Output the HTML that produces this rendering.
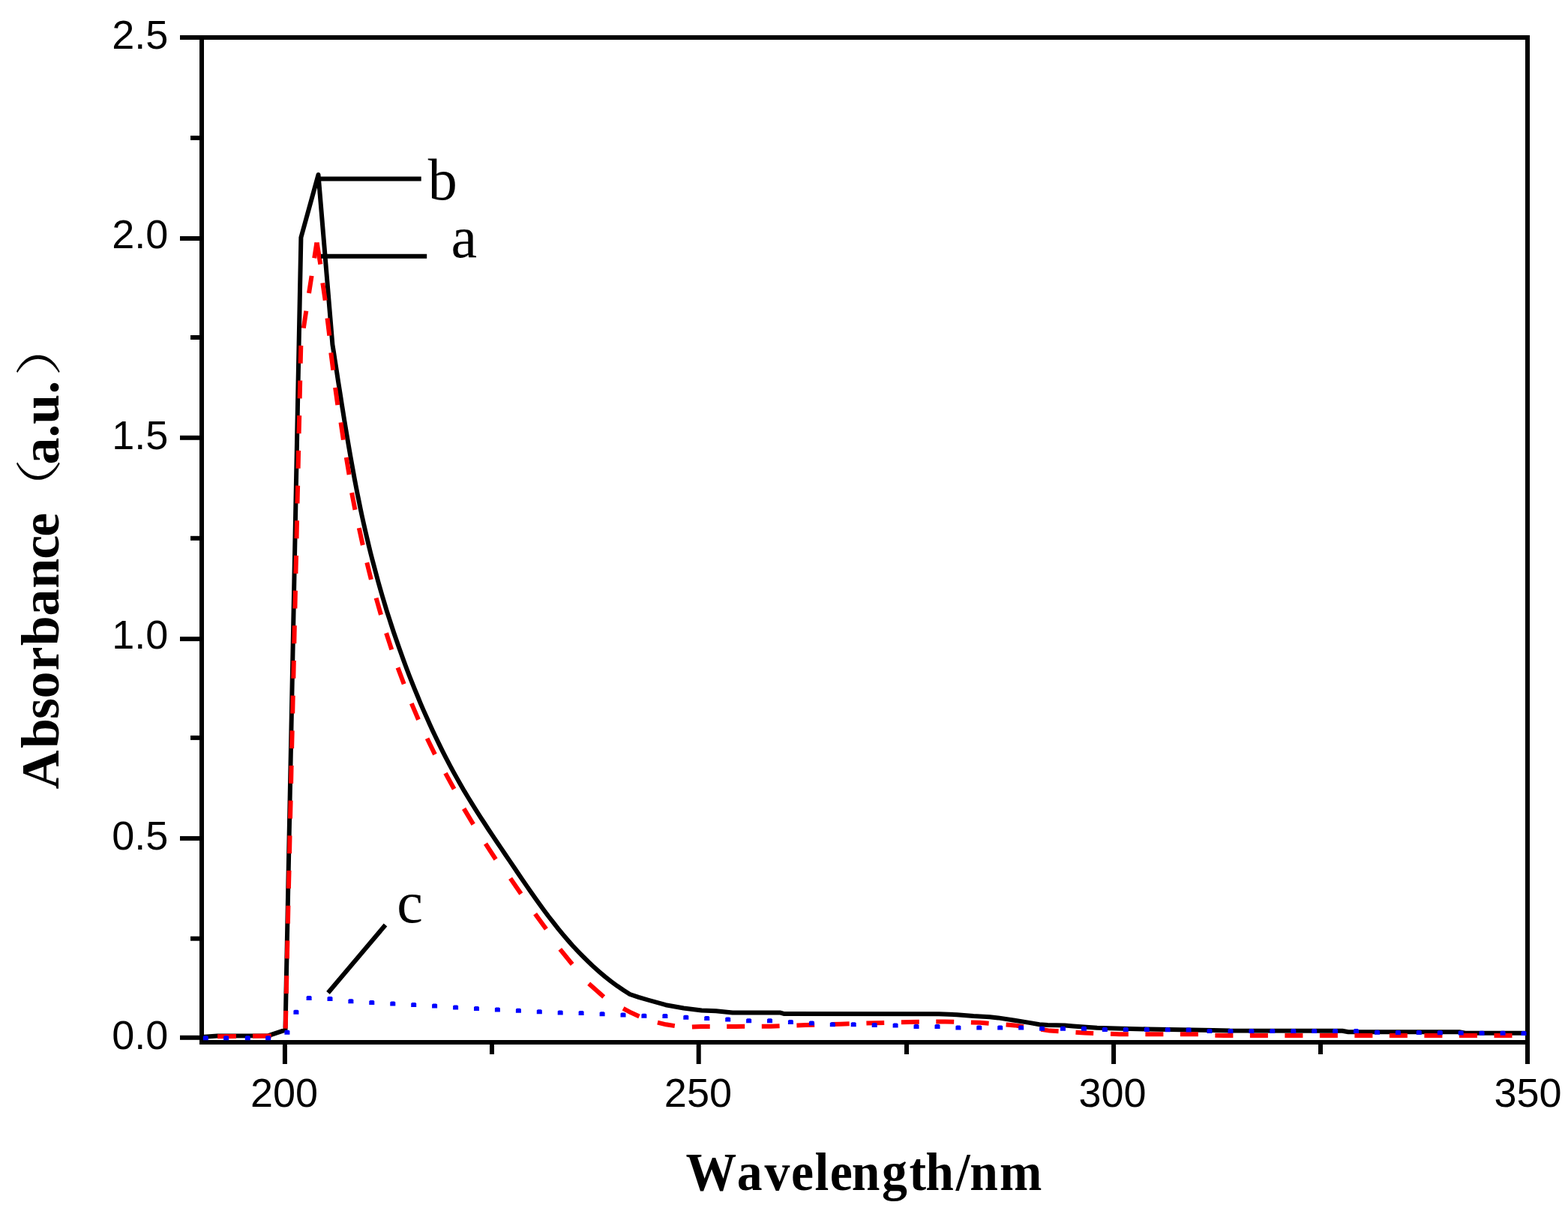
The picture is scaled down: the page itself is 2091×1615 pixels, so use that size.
<!DOCTYPE html>
<html lang="en">
<head>
<meta charset="utf-8">
<title>UV absorbance spectra</title>
<style>
html,body{margin:0;padding:0;background:#fff;}
body{width:2091px;height:1615px;overflow:hidden;}
svg{display:block;}
text{white-space:pre;}
</style>
</head>
<body>
<svg width="2091" height="1615" viewBox="0 0 2091 1615" role="img" aria-label="UV absorbance spectra of samples a, b and c">
<rect width="2091" height="1615" fill="#fff"/>
<!-- plot frame and tick marks -->
<g id="axes">
<rect x="266.00" y="47.00" width="1774.00" height="6.00" fill="#000"/>
<rect x="266.00" y="1387.00" width="1774.00" height="6.00" fill="#000"/>
<rect x="266.00" y="47.00" width="6.00" height="1346.00" fill="#000"/>
<rect x="2034.00" y="47.00" width="6.00" height="1346.00" fill="#000"/>
<rect x="240.00" y="47.00" width="29.00" height="6.00" fill="#000"/>
<rect x="240.00" y="315.00" width="29.00" height="6.00" fill="#000"/>
<rect x="240.00" y="580.80" width="29.00" height="6.00" fill="#000"/>
<rect x="240.00" y="849.10" width="29.00" height="6.00" fill="#000"/>
<rect x="240.00" y="1115.10" width="29.00" height="6.00" fill="#000"/>
<rect x="240.00" y="1380.80" width="29.00" height="6.00" fill="#000"/>
<rect x="254.00" y="180.90" width="15.00" height="6.00" fill="#000"/>
<rect x="254.00" y="447.00" width="15.00" height="6.00" fill="#000"/>
<rect x="254.00" y="714.80" width="15.00" height="6.00" fill="#000"/>
<rect x="254.00" y="980.90" width="15.00" height="6.00" fill="#000"/>
<rect x="254.00" y="1248.70" width="15.00" height="6.00" fill="#000"/>
<rect x="376.90" y="1390.00" width="6.00" height="29.00" fill="#000"/>
<rect x="928.70" y="1390.00" width="6.00" height="29.00" fill="#000"/>
<rect x="1482.10" y="1390.00" width="6.00" height="29.00" fill="#000"/>
<rect x="2034.00" y="1390.00" width="6.00" height="29.00" fill="#000"/>
<rect x="653.00" y="1390.00" width="6.00" height="16.00" fill="#000"/>
<rect x="1206.00" y="1390.00" width="6.00" height="16.00" fill="#000"/>
<rect x="1758.00" y="1390.00" width="6.00" height="16.00" fill="#000"/>
</g>
<clipPath id="plotclip"><rect x="266.0" y="50.0" width="1774.0" height="1340.0"/></clipPath>
<g clip-path="url(#plotclip)">
<!-- spectra: b (solid), a (dashed), c (dotted) -->
<g id="curves">
<g fill="none" stroke-linejoin="round">
<polyline points="269.0,1383.0 290.0,1381.6 358.0,1381.2 380.5,1373.6 401.4,316.8 424.5,233.0 443.4,459.5 445.0,469.5 446.5,479.4 448.1,489.4 449.6,499.3 451.1,509.3 452.7,519.2 454.3,529.2 455.8,539.2 457.4,549.1 459.0,559.1 460.6,569.0 462.3,579.0 464.0,588.9 465.7,598.9 467.4,608.8 469.2,618.7 471.0,628.6 472.8,638.6 474.7,648.5 476.6,658.4 478.6,668.2 480.6,678.1 482.7,688.0 484.9,697.8 487.1,707.7 489.4,717.5 491.7,727.3 494.1,737.1 496.6,746.8 499.2,756.6 501.8,766.3 504.4,776.1 507.2,785.8 510.0,795.5 512.9,805.1 515.8,814.8 518.9,824.4 522.0,834.0 525.1,843.5 528.4,853.1 531.7,862.6 535.1,872.1 538.5,881.6 542.0,891.0 545.6,900.5 549.3,909.8 553.0,919.2 556.9,928.5 560.7,937.8 564.7,947.1 568.8,956.3 572.9,965.5 577.1,974.7 581.4,983.8 585.8,992.9 590.2,1001.9 594.8,1010.9 599.5,1019.8 604.2,1028.6 609.1,1037.4 614.1,1046.2 619.1,1054.9 624.3,1063.5 629.6,1072.1 634.9,1080.6 640.3,1089.1 645.8,1097.5 651.3,1106.0 656.9,1114.4 662.5,1122.7 668.2,1131.1 673.8,1139.5 679.5,1147.9 685.2,1156.3 690.9,1164.7 696.6,1173.1 702.3,1181.4 708.1,1189.7 713.9,1198.0 719.8,1206.2 725.8,1214.4 731.8,1222.5 738.0,1230.4 744.2,1238.3 750.6,1246.1 757.1,1253.7 763.7,1261.2 770.5,1268.5 777.5,1275.7 784.6,1282.7 791.9,1289.6 799.4,1296.2 807.0,1302.6 814.9,1308.8 823.0,1314.8 831.4,1320.5 840.0,1326.0 851.5,1329.8 863.9,1333.5 887.8,1340.2 911.7,1344.5 935.6,1347.4 954.8,1348.2 976.8,1350.4 1040.0,1350.4 1046.0,1352.1 1252.0,1352.2 1276.0,1353.3 1298.0,1355.0 1320.0,1356.2 1331.0,1357.4 1353.0,1360.8 1374.0,1364.1 1386.0,1366.3 1397.0,1367.0 1420.0,1367.4 1431.0,1368.4 1452.0,1369.9 1463.0,1370.8 1497.0,1371.8 1530.0,1372.5 1574.0,1373.2 1618.0,1373.9 1640.0,1374.6 1790.0,1374.8 1798.0,1376.3 1946.0,1376.3 1954.0,1377.8 2037.0,1377.8" stroke="#000" stroke-width="6"/>
<path d="M290.1 1382.3 L314.9 1382.0 M337.0 1381.7 L358.0 1381.5 L361.7 1381.4 M380.7 1371.6 L381.3 1347.8 M381.8 1325.0 L382.3 1301.1 M382.8 1278.3 L383.4 1254.4 M383.9 1231.6 L384.4 1207.7 M384.9 1184.9 L385.5 1161.0 M386.0 1138.2 L386.5 1114.4 M387.0 1091.6 L387.6 1067.7 M388.1 1044.9 L388.6 1021.0 M389.1 998.2 L389.7 974.3 M390.2 951.5 L390.7 927.6 M391.3 904.8 L391.8 881.0 M392.3 858.2 L392.8 834.3 M393.4 811.5 L393.9 787.6 M394.4 764.8 L395.0 740.9 M395.5 718.1 L396.0 694.2 M396.5 671.4 L397.1 647.6 M397.6 624.8 L398.1 600.9 M398.6 578.1 L399.2 554.2 M399.7 531.4 L400.2 507.5 M400.7 484.7 L401.3 460.8 M404.8 437.6 L408.3 414.6 M412.0 391.0 L415.6 367.9 M419.2 344.3 L422.4 323.5" fill="none" stroke="#f00" stroke-width="6" stroke-linejoin="round"/>
<path d="M430.3 377.4 L433.7 400.6 M436.5 424.4 L439.3 447.6 M441.3 470.4 L444.3 493.6 M447.1 516.9 L450.3 540.1 M454.5 563.4 L457.9 586.6 M461.8 610.0 L465.6 633.0 M469.1 657.1 L473.5 679.9 M478.8 704.2 L483.8 727.0 M489.3 750.3 L494.9 772.9 M501.6 797.5 L508.0 819.9 M515.1 844.2 L522.3 866.4 M530.5 890.4 L538.7 912.2 M548.8 938.1 L558.0 959.7 M569.6 984.7 L580.0 1006.1 M594.0 1031.1 L605.6 1052.3 M618.6 1078.4 L631.2 1099.4 M647.5 1125.2 L661.1 1146.0 M680.6 1171.4 L694.8 1192.0 M713.6 1218.7 L728.4 1239.1 M746.8 1265.8 L763.2 1286.0 M785.2 1311.8 L805.2 1329.4 M831.1 1344.9 L841.7 1350.6 L852.5 1355.4 M876.9 1363.7 L888.2 1366.3 L899.8 1368.1 M922.9 1369.5 L934.7 1368.9 L946.7 1368.9 M969.2 1368.9 L981.2 1368.9 L993.2 1368.8 M1015.8 1368.7 L1027.8 1368.7 L1039.6 1368.2 M1062.4 1367.4 L1074.3 1367.0 L1086.2 1366.7 M1108.9 1366.0 L1120.8 1365.7 L1132.7 1365.3 M1155.4 1364.6 L1167.3 1364.2 L1179.2 1363.9 M1201.9 1363.2 L1213.8 1362.9 L1225.8 1362.8 M1248.3 1362.6 L1260.3 1362.5 L1272.2 1362.8 M1294.9 1363.4 L1306.8 1363.8 L1318.6 1364.7 M1341.6 1366.5 L1353.3 1367.4 L1364.9 1369.2 M1388.3 1372.8 L1399.8 1374.6 L1411.6 1375.3 M1434.5 1376.7 L1446.3 1377.4 L1458.2 1377.9 M1481.0 1378.8 L1492.8 1379.3 L1504.8 1379.3 M1527.4 1379.3 L1539.4 1379.3 L1551.4 1379.3 M1573.9 1379.3 L1585.9 1379.3 L1597.9 1379.3 M1620.4 1380.8 L1632.4 1381.0 L1644.4 1381.0 M1666.9 1381.0 L1678.9 1381.0 L1690.9 1381.0 M1713.4 1381.0 L1725.4 1381.0 L1737.4 1381.0 M1759.9 1381.0 L1771.9 1381.0 L1783.9 1381.0 M1806.4 1381.0 L1818.4 1381.0 L1830.4 1381.0 M1852.9 1381.0 L1864.9 1381.0 L1876.9 1381.0 M1899.4 1381.0 L1911.4 1381.0 L1923.4 1381.0 M1946.0 1381.0 L1958.0 1381.0 L1970.0 1381.0 M1992.5 1381.0 L2004.5 1381.0 L2016.5 1381.0 M422.6 323.5 L427.3 352.5" fill="none" stroke="#f00" stroke-width="6" stroke-linejoin="round"/>
<path d="M270.8 1382.3L272.3 1381.3L276.3 1381.3L277.8 1382.3L277.8 1387.3L270.8 1387.3Z M298.1 1382.3L299.6 1381.3L303.6 1381.3L305.1 1382.3L305.1 1387.3L298.1 1387.3Z M326.8 1382.3L328.3 1381.3L332.3 1381.3L333.8 1382.3L333.8 1387.3L326.8 1387.3Z M354.1 1382.3L355.6 1381.3L359.6 1381.3L361.1 1382.3L361.1 1387.3L354.1 1387.3Z M379.4 1374.8L380.9 1373.8L384.9 1373.8L386.4 1374.8L386.4 1379.8L379.4 1379.8Z M391.4 1347.8L392.9 1346.8L396.9 1346.8L398.4 1347.8L398.4 1352.8L391.4 1352.8Z M408.6 1328.9L410.1 1327.9L414.1 1327.9L415.6 1328.9L415.6 1333.9L408.6 1333.9Z M436.5 1330.0L438.0 1329.0L442.0 1329.0L443.5 1330.0L443.5 1335.0L436.5 1335.0Z M464.4 1333.2L465.9 1332.2L469.9 1332.2L471.4 1333.2L471.4 1338.2L464.4 1338.2Z M492.3 1334.9L493.8 1333.9L497.8 1333.9L499.3 1334.9L499.3 1339.9L492.3 1339.9Z M520.3 1336.5L521.8 1335.5L525.8 1335.5L527.3 1336.5L527.3 1341.5L520.3 1341.5Z M548.2 1337.9L549.7 1336.9L553.7 1336.9L555.2 1337.9L555.2 1342.9L548.2 1342.9Z M576.1 1339.4L577.6 1338.4L581.6 1338.4L583.1 1339.4L583.1 1344.4L576.1 1344.4Z M604.1 1341.5L605.6 1340.5L609.6 1340.5L611.1 1341.5L611.1 1346.5L604.1 1346.5Z M632.0 1343.1L633.5 1342.1L637.5 1342.1L639.0 1343.1L639.0 1348.1L632.0 1348.1Z M659.9 1344.4L661.4 1343.4L665.4 1343.4L666.9 1344.4L666.9 1349.4L659.9 1349.4Z M687.9 1345.7L689.4 1344.7L693.4 1344.7L694.9 1345.7L694.9 1350.7L687.9 1350.7Z M715.8 1347.2L717.3 1346.2L721.3 1346.2L722.8 1347.2L722.8 1352.2L715.8 1352.2Z M743.7 1348.6L745.2 1347.6L749.2 1347.6L750.7 1348.6L750.7 1353.6L743.7 1353.6Z M771.6 1349.0L773.1 1348.0L777.1 1348.0L778.6 1349.0L778.6 1354.0L771.6 1354.0Z M799.6 1350.3L801.1 1349.3L805.1 1349.3L806.6 1350.3L806.6 1355.3L799.6 1355.3Z M827.5 1351.4L829.0 1350.4L833.0 1350.4L834.5 1351.4L834.5 1356.4L827.5 1356.4Z M855.4 1352.8L856.9 1351.8L860.9 1351.8L862.4 1352.8L862.4 1357.8L855.4 1357.8Z M883.4 1353.0L884.9 1352.0L888.9 1352.0L890.4 1353.0L890.4 1358.0L883.4 1358.0Z M911.3 1354.8L912.8 1353.8L916.8 1353.8L918.3 1354.8L918.3 1359.8L911.3 1359.8Z M939.2 1356.0L940.7 1355.0L944.7 1355.0L946.2 1356.0L946.2 1361.0L939.2 1361.0Z M967.2 1357.6L968.7 1356.6L972.7 1356.6L974.2 1357.6L974.2 1362.6L967.2 1362.6Z M995.1 1359.2L996.6 1358.2L1000.6 1358.2L1002.1 1359.2L1002.1 1364.2L995.1 1364.2Z M1023.0 1359.2L1024.5 1358.2L1028.5 1358.2L1030.0 1359.2L1030.0 1364.2L1023.0 1364.2Z M1050.9 1360.9L1052.4 1359.9L1056.4 1359.9L1057.9 1360.9L1057.9 1365.9L1050.9 1365.9Z M1078.9 1362.5L1080.4 1361.5L1084.4 1361.5L1085.9 1362.5L1085.9 1367.5L1078.9 1367.5Z M1106.8 1364.2L1108.3 1363.2L1112.3 1363.2L1113.8 1364.2L1113.8 1369.2L1106.8 1369.2Z M1134.7 1364.2L1136.2 1363.2L1140.2 1363.2L1141.7 1364.2L1141.7 1369.2L1134.7 1369.2Z M1162.7 1365.0L1164.2 1364.0L1168.2 1364.0L1169.7 1365.0L1169.7 1370.0L1162.7 1370.0Z M1190.6 1365.5L1192.1 1364.5L1196.1 1364.5L1197.6 1365.5L1197.6 1370.5L1190.6 1370.5Z M1218.5 1367.0L1220.0 1366.0L1224.0 1366.0L1225.5 1367.0L1225.5 1372.0L1218.5 1372.0Z M1246.5 1367.0L1248.0 1366.0L1252.0 1366.0L1253.5 1367.0L1253.5 1372.0L1246.5 1372.0Z M1274.4 1368.4L1275.9 1367.4L1279.9 1367.4L1281.4 1368.4L1281.4 1373.4L1274.4 1373.4Z M1302.3 1368.4L1303.8 1367.4L1307.8 1367.4L1309.3 1368.4L1309.3 1373.4L1302.3 1373.4Z M1330.2 1368.4L1331.7 1367.4L1335.7 1367.4L1337.2 1368.4L1337.2 1373.4L1330.2 1373.4Z M1358.2 1368.4L1359.7 1367.4L1363.7 1367.4L1365.2 1368.4L1365.2 1373.4L1358.2 1373.4Z M1386.1 1369.7L1387.6 1368.7L1391.6 1368.7L1393.1 1369.7L1393.1 1374.7L1386.1 1374.7Z M1414.0 1369.7L1415.5 1368.7L1419.5 1368.7L1421.0 1369.7L1421.0 1374.7L1414.0 1374.7Z M1442.0 1369.8L1443.5 1368.8L1447.5 1368.8L1449.0 1369.8L1449.0 1374.8L1442.0 1374.8Z M1469.9 1370.9L1471.4 1369.9L1475.4 1369.9L1476.9 1370.9L1476.9 1375.9L1469.9 1375.9Z M1497.8 1371.0L1499.3 1370.0L1503.3 1370.0L1504.8 1371.0L1504.8 1376.0L1497.8 1376.0Z M1525.8 1371.0L1527.2 1370.0L1531.2 1370.0L1532.8 1371.0L1532.8 1376.0L1525.8 1376.0Z M1553.7 1371.2L1555.2 1370.2L1559.2 1370.2L1560.7 1371.2L1560.7 1376.2L1553.7 1376.2Z M1581.6 1371.5L1583.1 1370.5L1587.1 1370.5L1588.6 1371.5L1588.6 1376.5L1581.6 1376.5Z M1609.5 1373.0L1611.0 1372.0L1615.0 1372.0L1616.5 1373.0L1616.5 1378.0L1609.5 1378.0Z M1637.5 1373.0L1639.0 1372.0L1643.0 1372.0L1644.5 1373.0L1644.5 1378.0L1637.5 1378.0Z M1665.4 1373.0L1666.9 1372.0L1670.9 1372.0L1672.4 1373.0L1672.4 1378.0L1665.4 1378.0Z M1693.3 1373.0L1694.8 1372.0L1698.8 1372.0L1700.3 1373.0L1700.3 1378.0L1693.3 1378.0Z M1721.3 1373.0L1722.8 1372.0L1726.8 1372.0L1728.3 1373.0L1728.3 1378.0L1721.3 1378.0Z M1749.2 1373.0L1750.7 1372.0L1754.7 1372.0L1756.2 1373.0L1756.2 1378.0L1749.2 1378.0Z M1777.1 1373.0L1778.6 1372.0L1782.6 1372.0L1784.1 1373.0L1784.1 1378.0L1777.1 1378.0Z M1805.0 1373.1L1806.5 1372.1L1810.5 1372.1L1812.0 1373.1L1812.0 1378.1L1805.0 1378.1Z M1833.0 1374.7L1834.5 1373.7L1838.5 1373.7L1840.0 1374.7L1840.0 1379.7L1833.0 1379.7Z M1860.9 1374.9L1862.4 1373.9L1866.4 1373.9L1867.9 1374.9L1867.9 1379.9L1860.9 1379.9Z M1888.8 1375.1L1890.3 1374.1L1894.3 1374.1L1895.8 1375.1L1895.8 1380.1L1888.8 1380.1Z M1916.8 1375.3L1918.3 1374.3L1922.3 1374.3L1923.8 1375.3L1923.8 1380.3L1916.8 1380.3Z M1944.7 1375.5L1946.2 1374.5L1950.2 1374.5L1951.7 1375.5L1951.7 1380.5L1944.7 1380.5Z M1972.6 1375.7L1974.1 1374.7L1978.1 1374.7L1979.6 1375.7L1979.6 1380.7L1972.6 1380.7Z M2000.6 1375.8L2002.1 1374.8L2006.1 1374.8L2007.6 1375.8L2007.6 1380.8L2000.6 1380.8Z M2028.5 1376.0L2030.0 1375.0L2034.0 1375.0L2035.5 1376.0L2035.5 1381.0L2028.5 1381.0Z" fill="#00f" stroke="none"/>
</g>
</g>
</g>
<!-- leader lines for the curve labels -->
<g id="leaders">
<g stroke="#000" stroke-width="6" fill="none">
<line x1="424.5" y1="238.5" x2="561.7" y2="238.5"/>
<line x1="428" y1="341.7" x2="569.2" y2="341.7"/>
<line x1="437.5" y1="1324" x2="514" y2="1233.5"/>
</g>
</g>
<!-- tick labels, axis titles and curve labels -->
<g id="text">
<g font-family="'Liberation Sans', Arial, sans-serif" font-size="54" fill="#000">
<text x="224.4" y="64.5" text-anchor="end">2.5</text>
<text x="224.4" y="331.0" text-anchor="end">2.0</text>
<text x="224.4" y="598.9" text-anchor="end">1.5</text>
<text x="224.4" y="865.1" text-anchor="end">1.0</text>
<text x="224.4" y="1132.9" text-anchor="end">0.5</text>
<text x="224.4" y="1399.0" text-anchor="end">0.0</text>
<text x="379.0" y="1476.3" text-anchor="middle">200</text>
<text x="930.9" y="1476.3" text-anchor="middle">250</text>
<text x="1483.6" y="1476.3" text-anchor="middle">300</text>
<text x="2037.5" y="1476.3" text-anchor="middle">350</text>
</g>
<text transform="scale(0.94,1)" font-family="'Liberation Serif', 'Times New Roman', serif" font-weight="bold" font-size="72" y="1587" x="972.8 1045.6 1084.7 1122.4 1155.8 1177.3 1208.2 1251.0 1290.0 1313.1 1356.2 1375.9 1418.2">Wavelength/nm</text>
<g font-family="'Liberation Serif', 'Times New Roman', serif" font-weight="bold" font-size="72" fill="#000">
<text transform="rotate(-90)" y="77.5" x="-1052.5 -998.1 -959.1 -931.6 -894.4 -861.2 -821.6 -784.8 -745.7 -715.8">Absorbance</text>
<text transform="rotate(-90) translate(-693.36,73.90) scale(1.325,1)" font-family="'Liberation Serif', 'Noto Serif CJK SC', serif" font-weight="300" font-size="61.75">（</text>
<text transform="rotate(-90)" y="77.5" x="-619.6 -583.5 -565.8 -525.6">a.u.</text>
<text transform="rotate(-90) translate(-502.25,73.90) scale(1.325,1)" font-family="'Liberation Serif', 'Noto Serif CJK SC', serif" font-weight="300" font-size="61.75">）</text>
</g>
<g font-family="'Liberation Serif', 'Times New Roman', serif" font-size="78" fill="#000">
<text x="570.7" y="265.5">b</text>
<text x="601.4" y="343">a</text>
<text x="529.3" y="1229.8">c</text>
</g>
</g>
</svg>
</body>
</html>
